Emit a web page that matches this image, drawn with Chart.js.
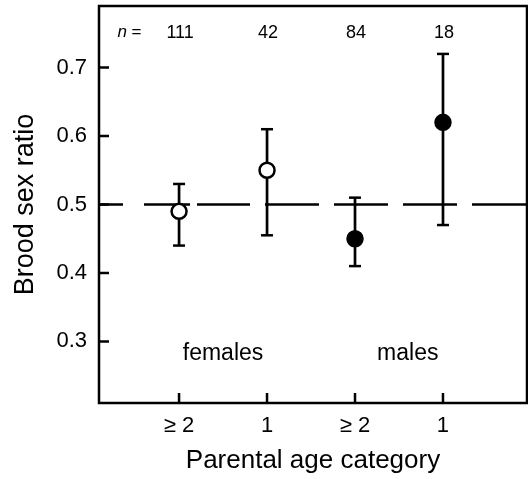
<!DOCTYPE html>
<html>
<head>
<meta charset="utf-8">
<script src="https://cdn.jsdelivr.net/npm/chart.js@4/dist/chart.umd.min.js"></script>
<style>
  html, body { margin: 0; padding: 0; background: #fff; }
  canvas { display: block; }
</style>
</head>
<body>
<canvas id="sexRatio" width="528" height="479"></canvas>
<script>
"use strict";
// data
var xPos = [1, 2, 3, 4];
var xLabels = ["\u2265 2", "1", "\u2265 2", "1"];
var means = [0.49, 0.55, 0.45, 0.62];
var upper = [0.53, 0.61, 0.51, 0.72];
var lower = [0.44, 0.455, 0.41, 0.47];
var nValues = [111, 42, 84, 18];
var isMale = [false, false, true, true];
var yTicks = [0.3, 0.4, 0.5, 0.6, 0.7];
var groups = ["females", "males"];
var groupX = [1.5, 3.6];

var xMin = 0.09, xMax = 4.955;
var yMin = 0.21, yMax = 0.79;
var refLine = 0.5;
var nRowY = 0.751, nTagX = 0.3, groupY = 0.282;

var FONT = '"Liberation Sans", Arial, Helvetica, sans-serif';

// frame, inward ticks and the text inside the plot
var frame = {
  id: "frame",
  afterDraw: function(chart) {
    var ctx = chart.ctx, a = chart.chartArea;
    var x = chart.scales.x, y = chart.scales.y;
    ctx.save();
    ctx.strokeStyle = "#000";
    ctx.lineWidth = 2.5;
    ctx.strokeRect(a.left, a.top, a.right - a.left, a.bottom - a.top);
    ctx.beginPath();
    y.ticks.forEach(function(t) {
      var py = y.getPixelForValue(t.value);
      ctx.moveTo(a.left, py);
      ctx.lineTo(a.left + 10, py);
    });
    x.ticks.forEach(function(t) {
      var px = x.getPixelForValue(t.value);
      ctx.moveTo(px, a.bottom);
      ctx.lineTo(px, a.bottom - 10);
    });
    ctx.stroke();

    ctx.fillStyle = "#000";
    ctx.textBaseline = "middle";
    var ny = y.getPixelForValue(nRowY);
    ctx.textAlign = "left";
    ctx.font = "italic 17px " + FONT;
    ctx.fillText("n", x.getPixelForValue(nTagX), ny);
    ctx.font = "17px " + FONT;
    ctx.fillText("=", x.getPixelForValue(nTagX) + 14, ny);
    ctx.textAlign = "center";
    ctx.font = "18px " + FONT;
    nValues.forEach(function(n, i) {
      ctx.fillText(String(n), x.getPixelForValue(xPos[i]) + 1, ny);
    });
    ctx.font = "23px " + FONT;
    groups.forEach(function(g, i) {
      ctx.fillText(g, x.getPixelForValue(groupX[i]), y.getPixelForValue(groupY));
    });
    ctx.restore();
  }
};

var datasets = [];
// points on top
datasets.push({
  data: xPos.map(function(v, i) { return { x: v, y: means[i] }; }),
  pointRadius: 7.5,
  pointBorderWidth: 2.5,
  pointBorderColor: "#000",
  pointBackgroundColor: isMale.map(function(m) { return m ? "#000" : "#fff"; }),
  order: 0
});
// caps
datasets.push({
  data: xPos.map(function(v, i) { return { x: v, y: upper[i] }; })
    .concat(xPos.map(function(v, i) { return { x: v, y: lower[i] }; })),
  pointStyle: "line",
  pointRadius: 6,
  pointBorderWidth: 2.5,
  pointBorderColor: "#000",
  order: 1
});
// error bar stems
xPos.forEach(function(v, i) {
  datasets.push({
    data: [{ x: v, y: lower[i] }, { x: v, y: upper[i] }],
    showLine: true,
    borderColor: "#000",
    borderWidth: 2.7,
    pointRadius: 0,
    order: 2
  });
});
// dashed 0.5 line (hand-drawn looking dash run, left to right)
datasets.push({
  data: [{ x: xMin, y: refLine }, { x: xMax, y: refLine }],
  showLine: true,
  borderColor: "#000",
  borderWidth: 2.5,
  borderDash: [24, 21, 46, 7, 53, 15, 54, 15, 54, 15, 54, 15, 60],
  pointRadius: 0,
  order: 3
});

var ctx = document.getElementById("sexRatio").getContext("2d");
var chart = new Chart(ctx, {
  type: "scatter",
  data: { datasets: datasets },
  options: {
    responsive: false,
    animation: false,
    layout: { autoPadding: false, padding: { left: 9, top: 6, right: 1, bottom: 2 } },
    plugins: { legend: { display: false }, tooltip: { enabled: false } },
    scales: {
      x: {
        type: "linear",
        min: xMin,
        max: xMax,
        grid: { display: false, drawTicks: false },
        border: { display: false },
        afterBuildTicks: function(s) { s.ticks = xPos.map(function(v) { return { value: v }; }); },
        afterFit: function(s) {
          s.height = 74;
          s.paddingLeft = 0;
          s.paddingRight = 0;
        },
        ticks: {
          color: "#000",
          padding: 10,
          maxRotation: 0,
          font: { family: FONT, size: 22 },
          callback: function(v) {
            var i = xPos.indexOf(v);
            return i >= 0 ? xLabels[i] : "";
          }
        },
        title: {
          display: true,
          text: "Parental age category",
          color: "#000",
          padding: { bottom: 1 },
          font: { family: FONT, size: 26 }
        }
      },
      y: {
        type: "linear",
        min: yMin,
        max: yMax,
        grid: { display: false, drawTicks: false },
        border: { display: false },
        afterBuildTicks: function(s) { s.ticks = yTicks.map(function(v) { return { value: v }; }); },
        afterFit: function(s) {
          s.width = 90;
          s.paddingTop = 0;
          s.paddingBottom = 0;
        },
        ticks: {
          color: "#000",
          padding: 12,
          font: { family: FONT, size: 22 },
          callback: function(v) { return v.toFixed(1); }
        },
        title: {
          display: true,
          text: "Brood sex ratio",
          color: "#000",
          padding: 0,
          font: { family: FONT, size: 27 }
        }
      }
    }
  },
  plugins: [frame]
});
</script>
</body>
</html>
